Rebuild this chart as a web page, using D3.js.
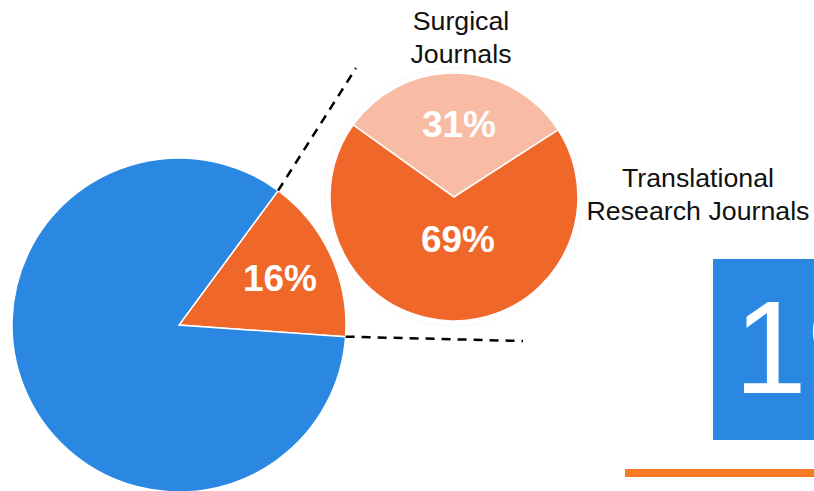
<!DOCTYPE html>
<html>
<head>
<meta charset="utf-8">
<script src="https://cdn.jsdelivr.net/npm/d3@7"></script>
<style>
  html, body { margin: 0; padding: 0; background: #fff; }
  svg { display: block; font-family: Arial, "Liberation Sans", sans-serif; }
</style>
</head>
<body>
<div id="root"></div>
<script>
const svgWidth = 814;
const svgHeight = 491;

// overall share: journals of interest vs the rest
const mainLabels = ["Journals", "Other"];
const mainValues = [16, 84];
const mainColors = ["#F0672A", "#2B88E2"];

// breakdown of the 16% slice
const subLabels = ["Surgical Journals", "Translational Research Journals"];
const subValues = [31, 69];
const subColors = ["#F8BCA5", "#F0672A"];

const bigNumber = "19%";

const deg = Math.PI / 180;

const mainSvg = d3.select("#root")
  .append("svg")
  .attr("width", svgWidth)
  .attr("height", svgHeight);

// big pie
const bigR = 167;
const bigC = [179, 325];
const bigPie = d3.pie().sort(null).startAngle(36.4 * deg).endAngle(36.4 * deg + 2 * Math.PI);
const bigArcs = bigPie(mainValues);
const bigArc = d3.arc().innerRadius(0).outerRadius(bigR);

const bigG = mainSvg.append("g").attr("transform", `translate(${bigC})`);
bigG.selectAll("path")
  .data(bigArcs)
  .join("path")
  .attr("d", bigArc)
  .attr("fill", (d, i) => mainColors[i])
  .attr("stroke", "#fff")
  .attr("stroke-width", 1.5);

bigG.append("text")
  .attr("x", 101)
  .attr("y", -34)
  .attr("text-anchor", "middle")
  .attr("font-size", "37px")
  .attr("font-weight", "bold")
  .attr("fill", "#fff")
  .text(mainValues[0] + "%");

// dashed connectors from the slice edges to the small pie
const edgePoint = (a) => [bigC[0] + bigR * Math.sin(a), bigC[1] - bigR * Math.cos(a)];
const connectors = [
  [edgePoint(bigArcs[0].startAngle), [356, 68]],
  [edgePoint(bigArcs[0].endAngle), [523, 341]]
];
mainSvg.selectAll("line.conn")
  .data(connectors)
  .join("line")
  .attr("class", "conn")
  .attr("x1", d => d[0][0])
  .attr("y1", d => d[0][1])
  .attr("x2", d => d[1][0])
  .attr("y2", d => d[1][1])
  .attr("stroke", "#000")
  .attr("stroke-width", 2.5)
  .attr("stroke-dasharray", "9,7");

// small pie
const smallR = 124;
const smallC = [454, 197];
const smallPie = d3.pie().sort(null).startAngle(-54.4 * deg).endAngle(-54.4 * deg + 2 * Math.PI);
const smallArcs = smallPie(subValues);
const smallArc = d3.arc().innerRadius(0).outerRadius(smallR);

const smallG = mainSvg.append("g").attr("transform", `translate(${smallC})`);
smallG.append("circle")
  .attr("r", smallR + 5)
  .attr("fill", "#fff")
  .attr("stroke", "#ececec")
  .attr("stroke-opacity", 0.4)
  .attr("stroke-width", 1);
smallG.selectAll("path")
  .data(smallArcs)
  .join("path")
  .attr("d", smallArc)
  .attr("fill", (d, i) => subColors[i])
  .attr("stroke", "#fff")
  .attr("stroke-width", 1.5);

const smallLabelPos = [[5, -60], [4, 55]];
smallG.selectAll("text")
  .data(subValues)
  .join("text")
  .attr("x", (d, i) => smallLabelPos[i][0])
  .attr("y", (d, i) => smallLabelPos[i][1])
  .attr("text-anchor", "middle")
  .attr("font-size", "37px")
  .attr("font-weight", "bold")
  .attr("fill", "#fff")
  .text(d => d + "%");

// category labels (slightly wide type, as in the source)
const labelSpots = [
  { x: 461, y: 30, lines: ["Surgical", "Journals"] },
  { x: 698, y: 187, lines: ["Translational", "Research Journals"] }
];
labelSpots.forEach(s => {
  const t = mainSvg.append("text")
    .attr("transform", `translate(${s.x},${s.y}) scale(1.07,1)`)
    .attr("text-anchor", "middle")
    .attr("font-size", "25px")
    .attr("fill", "#111");
  s.lines.forEach((l, i) => {
    t.append("tspan").attr("x", 0).attr("y", i * 33).text(l);
  });
});

// highlight box with the big figure
mainSvg.append("rect")
  .attr("x", 713)
  .attr("y", 259)
  .attr("width", 120)
  .attr("height", 181)
  .attr("fill", "#2B88E2");
mainSvg.append("text")
  .attr("x", 734)
  .attr("y", 393)
  .attr("font-size", "131px")
  .attr("fill", "#fff")
  .text(bigNumber);

mainSvg.append("rect")
  .attr("x", 625)
  .attr("y", 469)
  .attr("width", 200)
  .attr("height", 8)
  .attr("fill", "#F97A25");
</script>
</body>
</html>
